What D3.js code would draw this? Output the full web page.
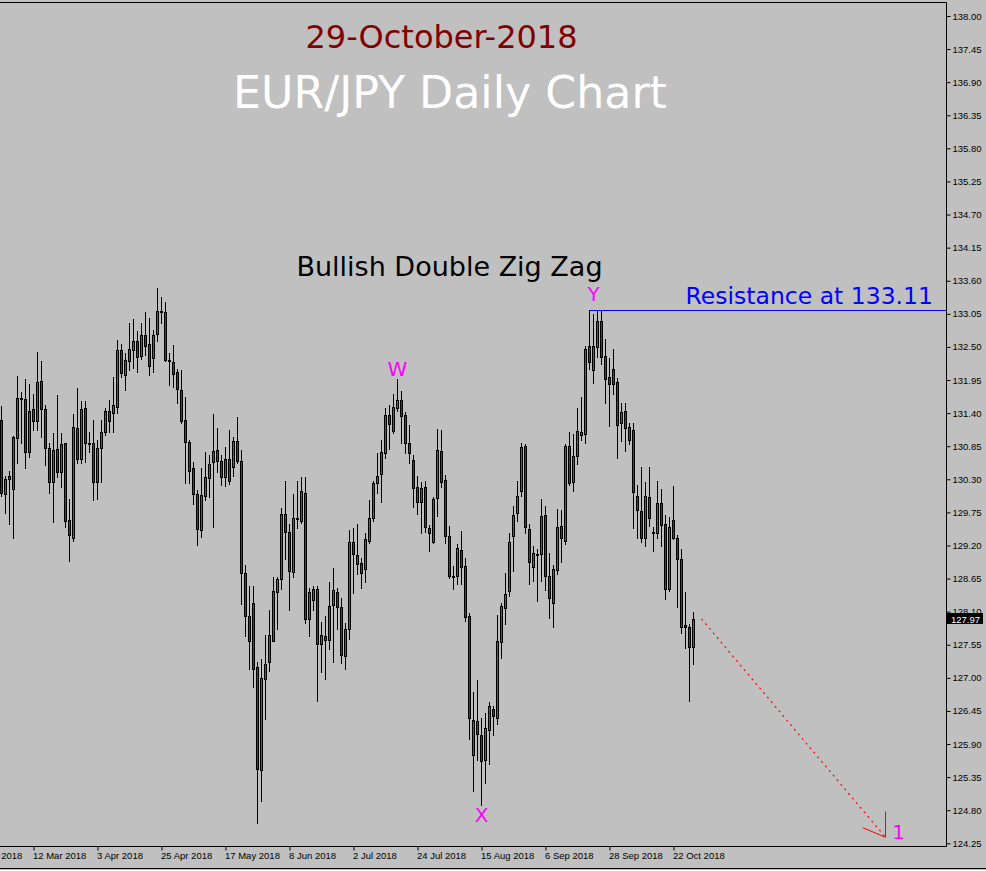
<!DOCTYPE html>
<html><head><meta charset="utf-8">
<script src="https://cdn.jsdelivr.net/npm/d3@7"></script>
<style>html,body{margin:0;padding:0;background:#c0c0c0;overflow:hidden}</style>
</head><body><svg id="c" width="986" height="871"></svg>
<script>
// EUR/JPY daily candles, 28 Feb 2018 .. 29 Oct 2018 (bar index 0..173)
const opens = [131.29,130.05,130.30,130.14,130.99,131.65,131.63,130.75,131.47,131.27,131.93,131.47,130.82,130.25,130.80,130.42,130.91,129.62,129.32,131.15,
130.64,131.49,130.90,130.90,130.26,130.82,131.09,131.44,131.40,131.50,132.45,132.04,132.27,132.45,132.60,132.35,132.69,132.55,132.32,132.72,
133.08,133.08,132.29,132.25,132.09,131.78,131.29,130.92,130.49,130.05,129.46,130.03,130.32,130.59,130.79,130.61,130.34,130.64,130.51,130.94,
130.61,128.75,128.03,128.25,127.18,125.46,126.98,127.26,127.62,128.43,128.64,129.72,129.42,128.76,129.64,129.61,130.08,127.98,128.30,128.48,
127.57,127.70,127.63,128.21,128.43,128.17,127.36,127.81,129.25,129.04,128.91,128.81,129.27,129.66,130.24,130.39,130.74,131.37,131.10,131.48,
131.62,131.37,130.91,130.62,130.17,129.92,130.17,129.49,129.26,129.99,130.77,130.29,129.36,128.69,128.69,129.13,128.86,128.02,125.71,126.28,
126.05,125.64,126.13,126.49,126.34,127.59,128.16,128.44,129.36,129.74,130.11,130.86,129.48,128.84,129.06,129.06,129.71,128.69,128.24,128.79,
129.53,129.28,130.86,130.25,130.69,131.04,131.06,132.52,132.12,132.50,132.93,132.35,132.00,132.14,131.91,131.23,131.44,131.17,131.12,130.02,
129.77,129.32,130.00,129.42,129.40,129.91,129.56,128.48,129.63,129.33,128.98,127.87,127.84,127.51];
const highs = [131.52,130.35,130.44,131.02,132.01,131.75,131.96,131.89,131.72,132.42,132.27,131.53,130.90,131.07,131.70,131.07,130.91,129.98,131.38,131.82,
131.60,131.60,131.09,131.29,130.96,131.29,131.49,131.62,132.00,132.62,132.55,132.40,132.90,132.97,132.77,132.90,133.08,132.98,132.78,133.48,
133.33,133.25,132.40,132.53,132.14,132.12,131.67,130.96,130.59,130.12,130.49,130.76,130.71,131.38,131.15,130.71,130.84,131.12,131.01,131.34,
130.79,128.88,128.53,128.53,127.26,127.32,127.72,128.13,128.68,128.68,129.82,130.27,129.55,130.06,130.27,130.34,130.34,128.50,128.52,128.52,
127.93,128.03,128.60,128.83,128.50,128.32,127.91,129.46,129.49,129.56,129.00,129.41,129.96,130.27,130.74,130.96,131.49,131.53,131.72,131.97,
131.77,131.42,131.20,130.71,130.36,130.26,130.27,129.54,130.00,131.14,131.12,130.37,129.52,128.86,129.23,129.44,128.99,128.07,126.76,126.97,
126.34,126.41,126.60,126.53,128.04,128.25,128.75,129.40,129.86,130.27,130.90,130.88,129.55,129.19,129.14,129.97,129.86,129.08,128.87,129.81,
129.79,130.88,131.09,131.05,131.49,131.66,132.52,133.12,133.05,133.11,133.11,132.63,132.31,132.46,131.99,131.57,131.57,131.24,131.23,130.21,
130.51,130.26,130.51,129.50,130.27,130.14,129.70,129.67,130.19,129.38,129.14,128.42,127.89,128.09];
const lows = [130.02,129.74,129.55,129.33,130.57,130.90,130.49,130.67,131.12,131.12,131.01,130.54,130.07,129.59,130.33,130.17,129.50,128.94,129.27,130.57,
130.57,130.59,130.76,129.96,129.98,130.26,131.04,131.09,131.09,131.40,132.00,131.79,132.12,132.15,132.09,132.30,132.37,132.03,132.09,132.60,
132.90,132.27,131.87,131.84,131.57,131.24,130.24,130.24,129.89,129.21,129.34,129.96,130.00,129.51,130.42,130.20,130.19,130.22,130.36,130.57,
128.23,127.70,127.15,126.85,124.59,124.96,126.31,127.11,127.61,127.82,128.48,128.98,128.12,128.68,129.49,129.58,127.91,127.69,128.13,126.62,
127.10,126.98,127.48,127.27,127.81,127.25,127.15,127.64,128.41,128.73,128.49,128.59,129.24,129.61,130.07,129.93,130.66,130.81,131.07,131.43,
130.91,130.74,130.57,129.84,129.73,129.41,129.42,129.11,129.24,129.69,130.17,129.24,128.66,128.47,128.56,128.56,127.95,125.99,125.12,125.64,
124.88,125.26,125.56,126.05,126.23,127.33,127.89,128.36,128.78,129.61,130.02,129.41,128.56,128.61,128.28,128.61,128.46,127.99,127.84,128.73,
128.93,129.23,130.20,130.11,130.55,130.96,130.90,132.13,131.90,132.34,132.21,131.57,131.19,131.72,130.66,130.94,130.77,130.88,129.49,129.32,
129.26,129.19,129.53,129.11,129.32,129.19,128.31,128.44,129.31,128.18,127.75,127.49,126.62,127.23];
const closes = [130.07,130.30,130.35,131.01,131.65,131.63,130.76,131.44,131.27,131.92,131.47,130.82,130.26,130.79,130.42,130.89,129.60,129.37,131.17,130.64,
131.47,130.90,130.89,130.26,130.82,131.09,131.44,131.27,131.53,132.45,132.07,132.29,132.47,132.60,132.34,132.69,132.52,132.19,132.70,133.10,
133.09,132.29,132.27,132.05,131.80,131.27,130.92,130.44,130.05,129.47,130.04,130.34,130.56,130.77,130.61,130.34,130.64,130.27,130.94,130.61,
128.75,128.03,127.62,127.15,125.49,126.99,127.23,127.71,128.44,128.64,129.72,129.42,128.78,129.66,129.66,130.10,127.98,128.43,128.48,127.57,
127.72,127.63,128.20,128.46,128.17,127.38,127.81,129.26,129.06,128.89,128.74,129.31,129.66,130.24,130.36,130.76,131.37,131.22,131.50,131.62,
131.35,130.91,130.74,130.16,129.92,130.16,129.51,129.41,129.98,130.79,130.26,129.36,128.69,128.67,129.16,128.84,128.01,126.33,126.30,126.07,
125.62,126.16,126.54,126.37,127.61,128.19,128.40,129.25,129.71,130.03,130.84,129.51,128.93,129.07,129.04,129.69,128.70,128.32,128.81,129.50,
129.32,130.86,130.24,130.68,131.10,131.09,132.47,132.25,132.52,132.93,132.34,131.97,131.89,131.89,131.21,131.42,131.16,130.96,130.09,129.79,
129.32,130.02,129.66,129.40,129.91,129.54,128.48,129.50,129.33,128.98,127.85,127.85,127.51,127.97];

const dateTickLabels = ["16 Feb 2018","12 Mar 2018","3 Apr 2018","25 Apr 2018","17 May 2018","8 Jun 2018",
  "2 Jul 2018","24 Jul 2018","15 Aug 2018","6 Sep 2018","28 Sep 2018","22 Oct 2018"];
const dateTickBars = [-8,8,24,40,56,72,88,104,120,136,152,168];
const priceTicks = [138.00,137.45,136.90,136.35,135.80,135.25,134.70,134.15,133.60,133.05,132.50,131.95,131.40,
  130.85,130.30,129.75,129.20,128.65,128.10,127.55,127.00,126.45,125.90,125.35,124.80,124.25];
const lastPrice = 127.97;
const resistance = 133.11, resistanceFromBar = 147;
const waveLabels = ["W","X","Y","1"];
const waveBars = [99,120,148,224.3];
const wavePrices = [132.14,124.72,133.38,124.44];
const projBars = [175,221], projPrices = [127.98,124.35];
const arrowBars = [215.3,221,221], arrowPrices = [124.51,124.35,124.78];

const svg = d3.select("#c");
const W = 986, H = 871;
const plotR = 946.5, plotB = 846.5, plotT = 2.5;
const x = d3.scaleLinear().domain([0, 173]).range([1.5, 693.5]);
const y = d3.scaleLinear().domain([124.25, 138.00]).range([843.3, 16]);
const font = "'DejaVu Sans', Verdana, sans-serif";
const axFont = "'Liberation Sans', Arial, sans-serif";

svg.append("rect").attr("width", W).attr("height", H).attr("fill", "#c0c0c0");

const clip = svg.append("clipPath").attr("id","pc").append("rect")
  .attr("x",0).attr("y",plotT).attr("width",plotR).attr("height",plotB-plotT);
const g = svg.append("g").attr("clip-path","url(#pc)");

// candles
const bars = d3.range(opens.length).map(i => ({i, o:opens[i], h:highs[i], l:lows[i], c:closes[i]}));
const snap = v => Math.round(v) + 0.5;
g.selectAll("line.wick").data(bars).join("line").attr("class","wick")
  .attr("x1", d => x(d.i)).attr("x2", d => x(d.i))
  .attr("y1", d => Math.round(y(d.h))).attr("y2", d => Math.round(y(d.l)) + 1)
  .attr("stroke", "#000").attr("stroke-width", 1);
g.selectAll("rect.body").data(bars).join("rect").attr("class","body")
  .attr("x", d => x(d.i) - 1).attr("width", 2)
  .attr("y", d => snap(y(Math.max(d.o, d.c))))
  .attr("height", d => Math.max(0, snap(y(Math.min(d.o, d.c))) - snap(y(Math.max(d.o, d.c)))))
  .attr("fill", d => d.c >= d.o ? "#2e7452" : "#e00000")
  .attr("stroke", "#000").attr("stroke-width", 1);

// resistance
g.append("line").attr("x1", x(resistanceFromBar)).attr("x2", plotR)
  .attr("y1", snap(y(resistance))).attr("y2", snap(y(resistance)))
  .attr("stroke", "#0000ff").attr("stroke-width", 1);

// projection
g.append("line").attr("x1", x(projBars[0])).attr("y1", y(projPrices[0]))
  .attr("x2", x(projBars[1])).attr("y2", y(projPrices[1]))
  .attr("stroke", "#ff0000").attr("stroke-width", 1.2).attr("stroke-dasharray", "2,4");
g.append("path").attr("d", d3.line()(arrowBars.map((b,k) => [x(b), y(arrowPrices[k])])))
  .attr("fill","none").attr("stroke","#ff0000").attr("stroke-width",1);

// frame
svg.append("path").attr("d", `M0,${plotT}H${plotR}V${plotB}H0`).attr("fill","none").attr("stroke","#000");

// right axis
const ya = svg.append("g").attr("transform", `translate(${plotR},0)`)
  .call(d3.axisRight(y).tickValues(priceTicks).tickFormat(d3.format(".2f")).tickSize(4).tickPadding(2));
ya.select(".domain").remove();
ya.selectAll("text").attr("font-family", axFont).attr("font-size", 9.5).attr("fill","#000");
ya.selectAll("line").attr("stroke","#000");

// last price label
const ly = y(lastPrice);
svg.append("rect").attr("x", 947).attr("y", Math.round(ly) - 6).attr("width", 36).attr("height", 11).attr("fill","#000");
svg.append("text").attr("x", 951).attr("y", ly).attr("dy","0.35em").attr("fill","#fff")
  .attr("font-family", axFont).attr("font-size", 9.5).text(lastPrice.toFixed(2));

// bottom axis
const xa = svg.append("g").attr("transform", `translate(0,${plotB})`)
  .call(d3.axisBottom(x).tickValues(dateTickBars).tickFormat((d,k) => dateTickLabels[k]).tickSize(4).tickPadding(2));
xa.select(".domain").remove();
xa.selectAll("text").attr("text-anchor","start").attr("dx", -1)
  .attr("font-family", axFont).attr("font-size", 9.5).attr("fill","#000");
xa.selectAll("line").attr("stroke","#000");

// window bottom border
svg.append("line").attr("x1",0).attr("x2",W).attr("y1",868.5).attr("y2",868.5).attr("stroke","#000");
svg.append("line").attr("x1",0).attr("x2",W).attr("y1",870.5).attr("y2",870.5).attr("stroke","#fff");

// titles
svg.append("text").attr("x", 441.5).attr("y", 48).attr("text-anchor","middle")
  .attr("font-family", font).attr("font-size", 32).attr("fill", "#800000").text("29-October-2018");
svg.append("text").attr("x", 450).attr("y", 108).attr("text-anchor","middle")
  .attr("font-family", font).attr("font-size", 44.3).attr("fill", "#ffffff").text("EUR/JPY Daily Chart");
svg.append("text").attr("x", 449.5).attr("y", 276).attr("text-anchor","middle")
  .attr("font-family", font).attr("font-size", 27).attr("fill", "#000").text("Bullish Double Zig Zag");
svg.append("text").attr("x", 933).attr("y", y(resistance) - 6).attr("text-anchor","end")
  .attr("font-family", font).attr("font-size", 23.5).attr("fill", "#0000ff").text("Resistance at " + resistance.toFixed(2));

// wave labels
svg.selectAll("text.wave").data(waveLabels).join("text").attr("class","wave")
  .attr("x", (d,k) => x(waveBars[k])).attr("y", (d,k) => y(wavePrices[k]))
  .attr("dy","0.36em").attr("text-anchor","middle")
  .attr("font-family", font).attr("font-size", 20).attr("fill", "#ff00ff").text(d => d);
</script></body></html>
